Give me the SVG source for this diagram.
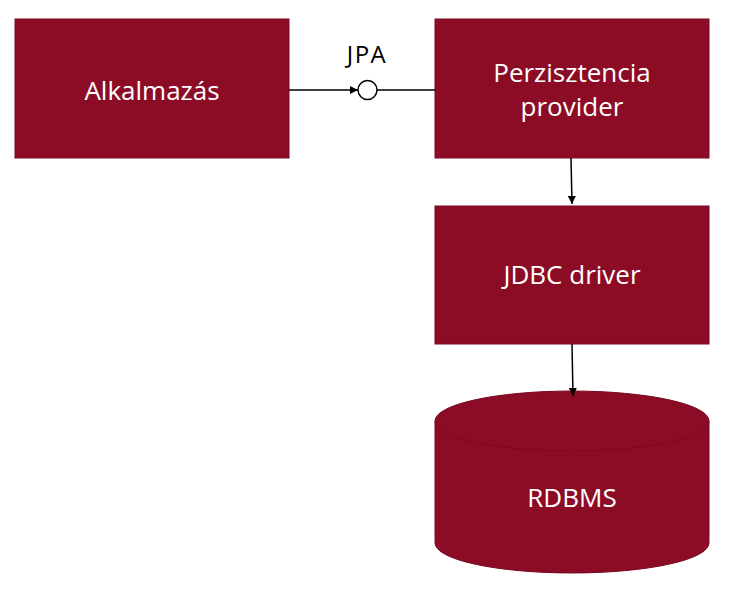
<svg xmlns="http://www.w3.org/2000/svg" width="746" height="593" viewBox="0 0 746 593">
<style>
.box{fill:#8c0c26;stroke:#7a0a20;stroke-width:1}
.lbl{fill:#ffffff;font-family:"Open Sans","Liberation Sans",sans-serif;font-size:26px;text-anchor:middle}
.ln{stroke:#000;stroke-width:1.5;fill:none}
</style>
<defs>
<marker id="ah" viewBox="0 0 10 10" refX="10" refY="5" markerWidth="8" markerHeight="8" markerUnits="userSpaceOnUse" orient="auto">
<path d="M0,0 L10,5 L0,10 z" fill="#000"/>
</marker>
</defs>
<rect width="746" height="593" fill="#fff"/>
<g id="alkalmazas">
<rect class="box" x="15" y="19" width="274" height="139"/>
<text class="lbl" x="152" y="100">Alkalmazás</text>
</g>
<g id="perzisztencia">
<rect class="box" x="435" y="19" width="274" height="139"/>
<text class="lbl" x="572" y="82">Perzisztencia</text>
<text class="lbl" x="572" y="116">provider</text>
</g>
<g id="jdbc">
<rect class="box" x="435" y="206" width="274" height="138"/>
<text class="lbl" x="572" y="284">JDBC driver</text>
</g>
<g id="rdbms">
<path class="box" d="M435,421 A137,30 0 0 1 709,421 L709,543 A137,30 0 0 1 435,543 Z"/>
<path d="M435,421 A137,30 0 0 0 709,421" fill="none" stroke="#7a0a20" stroke-width="1"/>
<text class="lbl" x="572" y="507">RDBMS</text>
</g>
<g id="connectors">
<line class="ln" x1="289" y1="90" x2="358" y2="90" marker-end="url(#ah)"/>
<circle cx="367.5" cy="90" r="9.5" fill="#fff" stroke="#000" stroke-width="1.5"/>
<line class="ln" x1="377" y1="90" x2="435" y2="90"/>
<text x="367" y="63" font-family="'Open Sans','Liberation Sans',sans-serif" font-size="24" letter-spacing="1.5" text-anchor="middle" fill="#000">JPA</text>
<line class="ln" x1="571" y1="158" x2="572" y2="204" marker-end="url(#ah)"/>
<line class="ln" x1="572" y1="344" x2="573" y2="396" marker-end="url(#ah)"/>
</g>
</svg>
